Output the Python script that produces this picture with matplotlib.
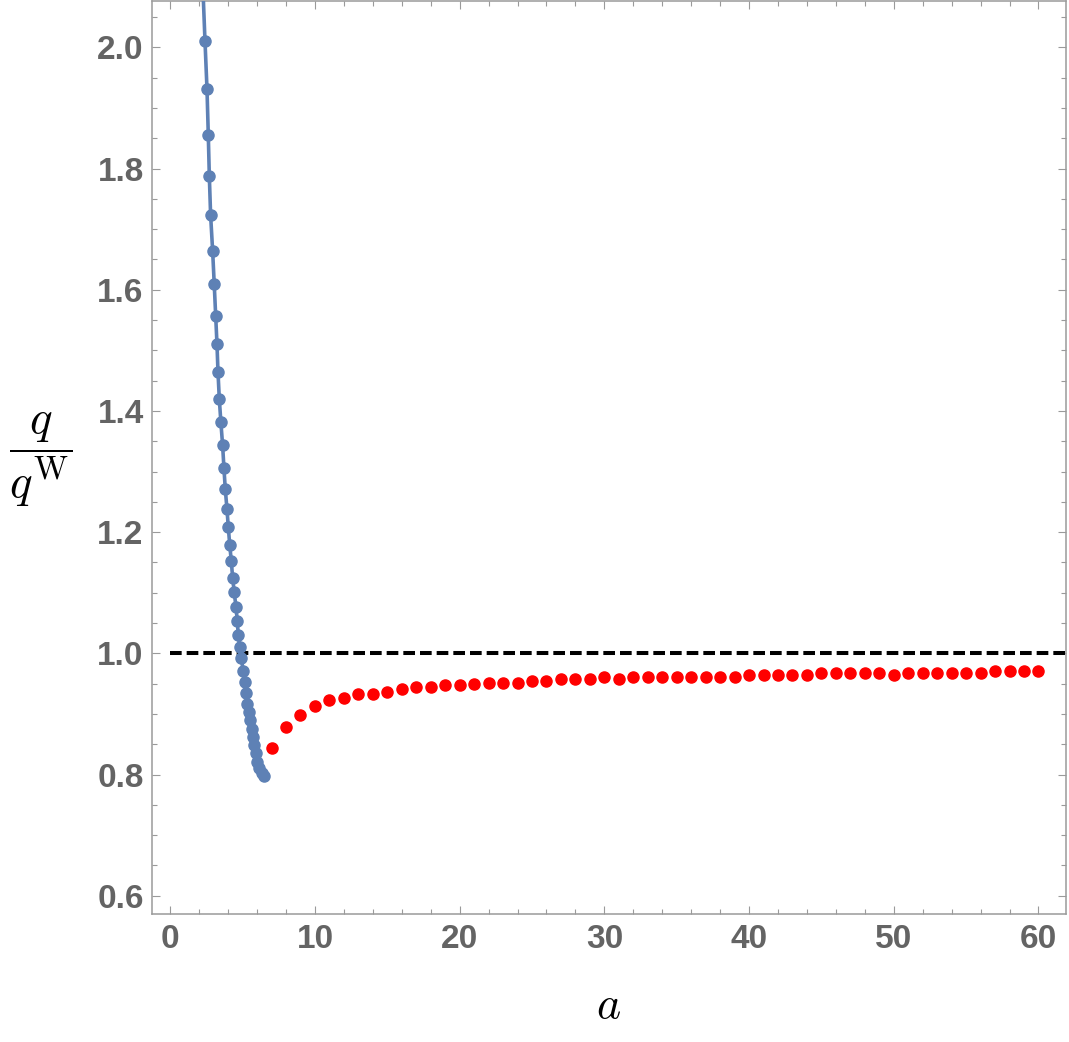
import matplotlib
matplotlib.use('Agg')
import matplotlib.pyplot as plt
from matplotlib.ticker import MultipleLocator

# blue branch (line + points)
blue_x = [2.27, 2.40, 2.54, 2.63, 2.70, 2.79, 2.93, 3.04, 3.14, 3.23, 3.30,
          3.39, 3.50, 3.62, 3.71, 3.80, 3.92, 4.01, 4.11, 4.22, 4.31,
          4.42, 4.54, 4.63, 4.70, 4.80, 4.91, 5.04, 5.14, 5.23, 5.32,
          5.42, 5.51, 5.63, 5.72, 5.81, 5.92, 6.01, 6.15, 6.32, 6.48]
blue_y = [2.09, 2.011, 1.931, 1.855, 1.788, 1.723, 1.664, 1.609, 1.557, 1.510, 1.464,
          1.420, 1.381, 1.343, 1.306, 1.272, 1.238, 1.209, 1.179, 1.152, 1.125,
          1.101, 1.077, 1.054, 1.031, 1.011, 0.992, 0.971, 0.953, 0.935, 0.917,
          0.904, 0.890, 0.875, 0.862, 0.849, 0.835, 0.821, 0.810, 0.802, 0.798]

# red points at a = 7 ... 60
red_x = list(range(7, 61))
red_y = [0.844, 0.879, 0.899, 0.913, 0.923, 0.927, 0.933, 0.933, 0.937, 0.941,
         0.944, 0.944, 0.947, 0.947, 0.950, 0.951, 0.951, 0.951, 0.954, 0.955,
         0.958, 0.958, 0.958, 0.961, 0.958, 0.961, 0.961, 0.961, 0.961, 0.961,
         0.961, 0.961, 0.961, 0.964, 0.964, 0.964, 0.964, 0.964, 0.968, 0.968,
         0.968, 0.968, 0.968, 0.964, 0.968, 0.968, 0.968, 0.968, 0.968, 0.968,
         0.971, 0.971, 0.971, 0.971]

ref_x = [0, 63]
ref_y = [1.0, 1.0]

plt.rcParams['mathtext.fontset'] = 'cm'
plt.rcParams['lines.scale_dashes'] = False

fig = plt.figure(figsize=(10.69, 10.42), dpi=100)
ax = fig.add_axes([0.1422, 0.1228, 0.8547, 0.8762])

blue = '#5E81B5'
ax.plot(blue_x, blue_y, color=blue, linewidth=2.6, marker='o', markersize=8.0,
        markevery=slice(1, None), clip_on=True, zorder=3)
ax.plot(red_x, red_y, linestyle='none', marker='o', markersize=8.0,
        color='#FF0000', zorder=3)
ax.plot(ref_x, ref_y, color='black', linewidth=2.9, dashes=(8.4, 3.6), zorder=2)

ax.set_xlim(-1.26, 61.88)
ax.set_ylim(0.5698, 2.0764)

ax.xaxis.set_major_locator(MultipleLocator(10))
ax.xaxis.set_minor_locator(MultipleLocator(2))
ax.yaxis.set_major_locator(MultipleLocator(0.2))
ax.yaxis.set_minor_locator(MultipleLocator(0.05))

frame_col = '#9a9a9a'
for s in ax.spines.values():
    s.set_color(frame_col)
    s.set_linewidth(1.1)

ax.tick_params(which='both', direction='in', top=True, right=True,
               color=frame_col, width=0.8)
ax.tick_params(which='major', length=6.0)
ax.tick_params(which='minor', length=3.4)
ax.tick_params(axis='y', which='major', pad=6)
ax.tick_params(axis='x', which='major', pad=7)

for lab in ax.get_xticklabels() + ax.get_yticklabels():
    lab.set_fontfamily('Liberation Sans')
    lab.set_fontweight('bold')
    lab.set_fontsize(24)
    lab.set_color('#646464')

ax.set_xlabel(r'$a$', fontsize=33, labelpad=20)
ax.set_ylabel(r'$\dfrac{q}{q^{\mathrm{W}}}$', fontsize=34, rotation=0,
              va='center', ha='center')
ax.yaxis.set_label_coords(-0.122, 0.497)

fig.savefig('out.png', dpi=100)
